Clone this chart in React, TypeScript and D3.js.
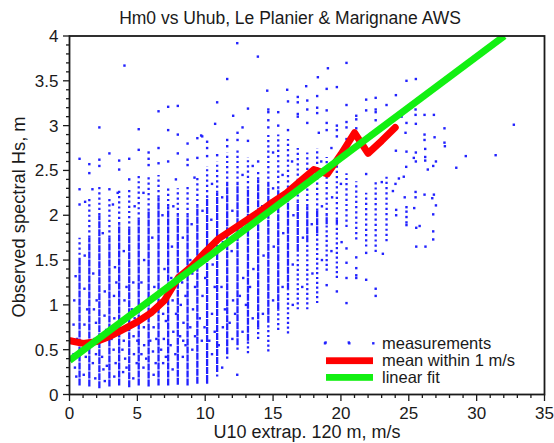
import React from "react";
import * as d3 from "d3";

const W = 554;
const H = 443;
const plot = { left: 69.5, right: 544.5, top: 36, bottom: 394.5 };

// Wind-speed bins (m/s) of the measurement columns
const binU = [0.74, 1.46, 2.2, 2.94, 3.66, 4.4, 5.1, 5.83, 6.56, 7.27, 7.98, 8.7, 9.42, 10.14, 10.88, 11.62, 12.38, 13.15, 13.9, 14.65, 15.38, 16.1, 16.82, 17.52, 18.25, 18.95, 19.7, 20.41, 21.13, 21.86, 22.56, 23.36];
// lowest Hs in each column
const binLow = [0.1, 0.09, 0.07, 0.09, 0.1, 0.08, 0.1, 0.09, 0.1, 0.1, 0.11, 0.1, 0.12, 0.12, 0.2, 0.4, 0.5, 0.46, 0.62, 0.48, 0.72, 0.68, 0.95, 0.95, 1.02, 1.38, 1.3, 1.87, 1.73, 1.65, 1.59, 1.71];
// near-continuous part of each column
const binDenseLow = [0.1, 0.09, 0.07, 0.09, 0.1, 0.08, 0.1, 0.09, 0.1, 0.1, 0.11, 0.1, 0.12, 0.14, 0.25, 0.45, 0.55, 0.6, 0.75, 0.8, 0.95, 1.17, 1.6, 1.7, 1.8, 1.9, 1.9, 1.87, 1.73, 1.65, 1.59, 1.71];
const binDenseTop = [1.5, 1.75, 2.0, 1.75, 1.9, 1.85, 1.95, 2.05, 2.2, 2.1, 2.0, 2.0, 2.1, 2.2, 2.25, 2.35, 2.35, 2.3, 2.4, 2.35, 2.3, 2.25, 2.15, 2.1, 2.05, 2.0, 1.95, 1.87, 1.73, 1.65, 1.59, 1.71];
// highest Hs of the regularly filled part of each column
const binTop = [1.75, 2.2, 2.35, 2.2, 2.3, 2.3, 2.45, 2.45, 2.45, 2.3, 2.3, 2.35, 2.45, 2.55, 2.6, 2.7, 2.75, 2.65, 2.5, 2.9, 2.9, 2.85, 2.75, 2.7, 2.75, 2.65, 2.6, 2.47, 2.38, 2.25, 2.37, 2.43];

// Individual measurements (U10, Hs) lying between the columns
const scatteredBetween: [number, number][] = [
  [0.3, 0.45], [0.35, 1.05], [0.4, 0.3], [0.45, 1.32], [0.3, 0.78], [1.05, 0.22], [1.1, 0.78], [1.12, 1.55],
  [1.2, 0.42], [1.15, 2.15], [1.1, 1.18], [1.72, 0.35], [1.8, 0.95], [1.75, 1.35], [1.69, 2.29], [1.85, 0.62],
  [1.9, 0.18], [2.5, 0.28], [2.55, 0.62], [2.6, 1.15], [2.45, 1.8], [2.58, 0.88], [2.6, 0.15], [3.3, 0.2],
  [3.25, 0.5], [3.3, 0.85], [3.35, 1.42], [3.2, 2.12], [3.4, 0.35], [3.28, 1.1], [3.55, 2.25], [3.95, 0.25],
  [4.0, 0.6], [4.05, 1.05], [4.1, 0.4], [4.0, 1.6], [4.02, 0.82], [4.7, 0.18], [4.75, 0.45], [4.8, 0.85],
  [4.7, 1.25], [4.8, 2.1], [4.72, 0.65], [5.45, 0.3], [5.5, 0.55], [5.4, 0.98], [5.5, 1.5], [5.45, 2.25],
  [5.48, 0.75], [6.2, 0.22], [6.15, 0.48], [6.2, 0.75], [6.25, 1.2], [6.1, 1.75], [6.22, 0.95], [6.9, 0.35],
  [6.95, 0.62], [6.9, 0.9], [7.0, 1.4], [6.85, 2.0], [6.92, 1.15], [7.6, 0.28], [7.65, 0.7], [7.6, 1.05],
  [7.55, 1.65], [7.65, 2.1], [7.84, 2.4], [8.35, 0.42], [8.4, 0.8], [8.3, 1.25], [8.35, 1.75], [8.38, 0.6],
  [9.05, 0.5], [9.1, 0.95], [9.05, 1.35], [9.0, 1.9], [9.21, 2.42], [9.75, 0.6], [9.8, 1.1], [9.7, 1.55],
  [9.8, 2.05], [10.5, 0.45], [10.5, 0.9], [10.55, 1.45], [10.45, 1.95], [10.5, 2.35], [11.25, 0.3], [11.3, 0.75],
  [11.2, 1.2], [11.3, 1.7], [11.25, 2.2], [12.0, 0.62], [12.05, 1.05], [11.95, 1.6], [12.0, 2.05], [12.36, 0.22],
  [12.75, 0.7], [12.8, 1.3], [12.7, 1.85], [12.75, 2.45], [13.5, 0.85], [13.55, 1.4], [13.45, 2.0], [13.5, 2.55],
  [14.25, 0.9], [14.3, 1.55], [14.2, 2.1], [15.0, 1.05], [15.05, 1.65], [15.0, 2.3], [15.0, 2.7], [15.7, 1.2],
  [15.75, 1.8], [15.7, 2.45], [16.45, 1.0], [16.45, 1.45], [16.5, 2.0], [16.4, 2.6], [17.15, 1.2], [17.2, 1.75],
  [17.15, 2.3], [17.9, 1.35], [17.85, 1.9], [17.9, 2.4], [18.6, 1.5], [18.6, 2.1], [18.55, 2.6], [18.87, 0.58],
  [19.3, 1.6], [19.35, 2.2], [19.3, 2.75], [20.05, 1.7], [20.0, 2.35], [20.58, 0.58],
  [0.55, 0.62], [0.5, 0.2], [1.25, 0.58], [1.3, 0.95], [1.95, 0.45], [2.0, 1.05], [1.95, 0.8], [2.4, 0.42],
  [2.7, 0.72], [2.75, 0.32], [3.1, 0.62], [3.45, 0.75], [3.45, 1.25], [3.9, 0.5], [4.2, 0.3], [4.25, 0.72],
  [4.2, 1.2], [4.6, 0.95], [4.95, 0.35], [5.0, 0.6], [5.3, 0.45], [5.3, 1.25], [5.65, 0.4], [5.7, 0.88],
  [5.95, 0.6], [6.35, 0.35], [6.4, 0.62], [6.75, 0.5], [6.75, 1.0], [7.1, 0.42], [7.1, 0.82], [7.45, 0.55],
  [7.5, 1.3], [7.8, 0.45], [7.85, 0.9], [8.15, 0.65], [8.2, 1.0], [8.55, 0.55], [8.55, 1.1], [8.9, 0.75],
  [8.9, 1.5], [9.25, 0.65], [9.25, 1.2], [9.6, 0.85], [9.95, 0.75], [10.0, 1.3], [10.3, 0.6], [10.7, 0.7],
  [10.7, 1.2], [11.0, 0.55], [11.45, 0.95], [11.8, 0.8], [12.2, 0.9], [12.55, 1.1], [13.0, 1.0], [13.3, 1.2],
];

// Isolated measurements above the columns and at the highest winds
const scatteredOutliers: [number, number][] = [
  [0.74, 2.12], [0.74, 2.29], [0.74, 2.63], [1.46, 2.47], [1.46, 2.57], [2.2, 2.98], [2.2, 2.62], [2.2, 2.55],
  [2.94, 2.69], [2.94, 2.29], [3.66, 2.61], [3.66, 2.51], [4.05, 3.67], [4.4, 2.63], [4.4, 2.4], [5.1, 2.96],
  [5.1, 2.73], [5.83, 2.7], [5.83, 2.63], [5.83, 2.56], [6.56, 3.16], [6.56, 2.75], [6.56, 2.58], [7.27, 3.21],
  [7.27, 2.95], [7.27, 2.6], [7.98, 3.22], [7.98, 2.9], [7.98, 2.69], [8.7, 2.8], [8.7, 2.62], [8.7, 2.56],
  [9.42, 2.86], [9.7, 2.89], [9.42, 2.64], [9.78, 2.88], [10.14, 2.82], [10.14, 2.75], [10.14, 2.66], [10.73, 3.02],
  [10.88, 3.26], [10.88, 2.67], [11.62, 3.52], [11.62, 2.84], [11.62, 2.77], [12.06, 3.11], [12.36, 3.92], [12.38, 2.92],
  [12.38, 2.84], [12.75, 2.98], [13.15, 3.19], [13.15, 2.83], [13.88, 3.77], [13.9, 2.6], [14.57, 3.39], [14.65, 3.18],
  [14.65, 3.15], [14.65, 3.06], [14.65, 2.98], [15.38, 3.15], [15.38, 3.0], [16.04, 3.4], [16.1, 3.27], [16.1, 2.95],
  [16.82, 3.32], [16.82, 3.26], [16.82, 3.13], [16.82, 3.1], [17.44, 3.44], [17.52, 3.28], [17.52, 3.18], [17.52, 3.03],
  [18.3, 3.54], [18.25, 3.33], [18.25, 3.2], [18.25, 3.14], [18.37, 2.92], [19.04, 3.64], [18.95, 3.41], [18.95, 3.17],
  [18.95, 3.03], [18.95, 2.95], [19.7, 3.43], [19.7, 3.0], [19.7, 2.95], [19.7, 2.88], [20.41, 3.7], [20.41, 3.23],
  [20.41, 3.04], [20.41, 2.98], [20.41, 2.85], [21.13, 3.11], [21.13, 3.07], [21.13, 2.97], [21.13, 2.9], [21.86, 3.29],
  [21.86, 3.17], [21.86, 2.46], [22.56, 3.31], [22.56, 3.18], [22.56, 3.15], [22.56, 3.06], [23.36, 3.23], [23.01, 2.37],
  [24.05, 3.34], [24.83, 3.5], [25.52, 3.52], [25.5, 3.18], [25.5, 3.12], [26.16, 3.12], [26.85, 3.12], [24.83, 3.03],
  [25.52, 3.02], [24.47, 3.1], [27.63, 2.97], [32.74, 3.01], [26.16, 2.9], [26.16, 2.84], [26.9, 2.87], [27.63, 2.81],
  [27.66, 2.77], [24.76, 2.92], [24.05, 2.72], [24.83, 2.71], [25.52, 2.7], [25.52, 2.6], [26.21, 2.74], [26.21, 2.65],
  [26.21, 2.61], [25.37, 2.64], [27.0, 2.6], [26.8, 2.55], [29.2, 2.66], [31.4, 2.67], [28.5, 2.53], [26.4, 2.51],
  [24.81, 2.54], [24.63, 2.43], [24.27, 2.41], [24.02, 2.35], [23.83, 2.27], [25.5, 2.26], [25.5, 2.2], [24.7, 2.2],
  [26.16, 2.23], [26.85, 2.23], [26.73, 2.19], [27.0, 2.11], [26.8, 2.01], [25.4, 2.08], [24.83, 2.09], [24.83, 2.04],
  [24.83, 1.98], [24.83, 1.92], [24.83, 1.89], [24.07, 2.06], [24.07, 2.0], [25.55, 1.86], [25.8, 1.88], [26.8, 1.82],
  [26.8, 1.73], [25.55, 1.65], [26.23, 1.65], [20.41, 1.63], [20.41, 1.47], [20.41, 1.3], [20.41, 1.02], [21.13, 1.53],
  [21.13, 1.41], [21.13, 1.33], [21.13, 1.3], [21.86, 1.58], [21.86, 1.28], [22.56, 1.18], [22.56, 1.1], [23.09, 1.57],
  [19.7, 1.15], [18.95, 1.22],
];

// Mean Hs within 1 m/s bins
const meanU = [0.05, 1, 2, 3, 4, 5, 6, 7, 8, 9, 10, 11, 12, 13, 14, 15, 16, 17, 18, 19, 20, 21, 22, 23, 24];
const meanHs = [0.6, 0.57, 0.59, 0.65, 0.73, 0.81, 0.91, 1.05, 1.3, 1.43, 1.59, 1.74, 1.84, 1.94, 2.04, 2.15, 2.25, 2.38, 2.51, 2.46, 2.68, 2.92, 2.69, 2.83, 2.98];

// Linear fit Hs = a + b U
const fitIntercept = 0.38;
const fitSlope = 0.113;
const fitU = [0, 32.04];

const xTicks = [0, 5, 10, 15, 20, 25, 30, 35];
const yTicks = [0, 0.5, 1, 1.5, 2, 2.5, 3, 3.5, 4];

const FONT = "Arial, 'Liberation Sans', Helvetica, sans-serif";
const BLUE = "#2222ff";
const RED = "#ff0000";
const GREEN = "#12f012";
const INK = "#1a1a1a";

export default function App() {
  const x = d3.scaleLinear().domain([0, 35]).range([plot.left, plot.right]);
  const y = d3.scaleLinear().domain([0, 4]).range([plot.bottom, plot.top]);

  const meanLine = d3
    .line<number>()
    .x((_, i) => x(meanU[i]))
    .y((d) => y(d))
    .curve(d3.curveLinear)(meanHs);

  const fitLine = d3
    .line<number>()
    .x((u) => x(u))
    .y((u) => y(fitIntercept + fitSlope * u))(fitU);

  const xMinor = d3.range(0, 36, 1);
  const yMinor = d3.range(0, 41, 1).map((k) => k / 10);

  const dotSize = 2.4;
  const allPoints = [...scatteredBetween, ...scatteredOutliers];

  return (
    <svg
      width={W}
      height={H}
      viewBox={`0 0 ${W} ${H}`}
      style={{ position: "fixed", left: 0, top: 0, background: "#fff" }}
    >
      <defs>
        <clipPath id="plotArea">
          <rect x={plot.left} y={plot.top} width={plot.right - plot.left} height={plot.bottom - plot.top} />
        </clipPath>
      </defs>
      <rect x={0} y={0} width={W} height={H} fill="#fff" />

      <text x={290} y={23.5} textAnchor="middle" fontFamily={FONT} fontSize={17.5} fill={INK}>
        Hm0 vs Uhub, Le Planier &amp; Marignane AWS
      </text>

      <g clipPath="url(#plotArea)">
        {/* measurement columns */}
        {binU.map((u, i) => (
          <g key={`col-${i}`} stroke={BLUE} strokeWidth={2.3}>
            {binDenseLow[i] > binLow[i] && (
              <line x1={x(u)} x2={x(u)} y1={y(binLow[i])} y2={y(binDenseLow[i])} strokeDasharray="2.2 2.6" />
            )}
            {binDenseTop[i] > binDenseLow[i] && (
              <line x1={x(u)} x2={x(u)} y1={y(binDenseLow[i])} y2={y(binDenseTop[i])} strokeDasharray="7 1" />
            )}
            {binTop[i] > binDenseTop[i] && (
              <line x1={x(u)} x2={x(u)} y1={y(binDenseTop[i])} y2={y(binTop[i])} strokeDasharray="2.2 3" />
            )}
          </g>
        ))}
        {allPoints.map(([u, hs], i) => (
          <rect
            key={`pt-${i}`}
            x={x(u) - dotSize / 2}
            y={y(hs) - dotSize / 2}
            width={dotSize}
            height={dotSize}
            fill={BLUE}
          />
        ))}
        <path d={meanLine ?? ""} fill="none" stroke={RED} strokeWidth={7} strokeLinejoin="round" strokeLinecap="round" />
        <path d={fitLine ?? ""} fill="none" stroke={GREEN} strokeWidth={7} strokeLinecap="butt" />
      </g>

      {/* frame */}
      <rect
        x={plot.left}
        y={plot.top}
        width={plot.right - plot.left}
        height={plot.bottom - plot.top}
        fill="none"
        stroke={INK}
        strokeWidth={1.8}
      />

      {/* x axis ticks */}
      {xMinor.map((v) => (
        <line key={`xm-${v}`} x1={x(v)} x2={x(v)} y1={plot.bottom} y2={plot.bottom + (v % 5 === 0 ? 6.5 : 3.5)} stroke={INK} strokeWidth={1.3} />
      ))}
      {xTicks.map((v) => (
        <text key={`xl-${v}`} x={x(v)} y={419} textAnchor="middle" fontFamily={FONT} fontSize={17} fill={INK}>
          {v}
        </text>
      ))}
      <text x={(plot.left + plot.right) / 2} y={437.5} textAnchor="middle" fontFamily={FONT} fontSize={18} fill={INK}>
        U10 extrap. 120 m, m/s
      </text>

      {/* y axis ticks */}
      {yMinor.map((v) => (
        <line
          key={`ym-${v}`}
          x1={plot.left}
          x2={plot.left - (Math.round(v * 10) % 5 === 0 ? 6.5 : 3.5)}
          y1={y(v)}
          y2={y(v)}
          stroke={INK}
          strokeWidth={1.3}
        />
      ))}
      {yTicks.map((v) => (
        <text key={`yl-${v}`} x={58.5} y={y(v) + 6} textAnchor="end" fontFamily={FONT} fontSize={17} fill={INK}>
          {d3.format("~g")(v)}
        </text>
      ))}
      <text
        transform={`translate(25, 217) rotate(-90)`}
        textAnchor="middle"
        fontFamily={FONT}
        fontSize={18.3}
        fill={INK}
      >
        Observed spectral Hs, m
      </text>

      {/* legend */}
      <g>
        {[325, 349.3, 373.3].map((lx, i) => (
          <rect key={`lg-${i}`} x={lx - 1.2} y={343.3 - 1.2} width={2.4} height={2.4} fill={BLUE} />
        ))}
        <text x={382} y={349} fontFamily={FONT} fontSize={16.5} fill={INK}>measurements</text>
        <rect x={326} y={357.3} width={47} height={6.8} fill={RED} />
        <text x={382} y={366.2} fontFamily={FONT} fontSize={16.5} fill={INK}>mean within 1 m/s</text>
        <rect x={326} y={374} width={47} height={6.8} fill={GREEN} />
        <text x={382} y={383.4} fontFamily={FONT} fontSize={16.5} fill={INK}>linear fit</text>
      </g>
    </svg>
  );
}
